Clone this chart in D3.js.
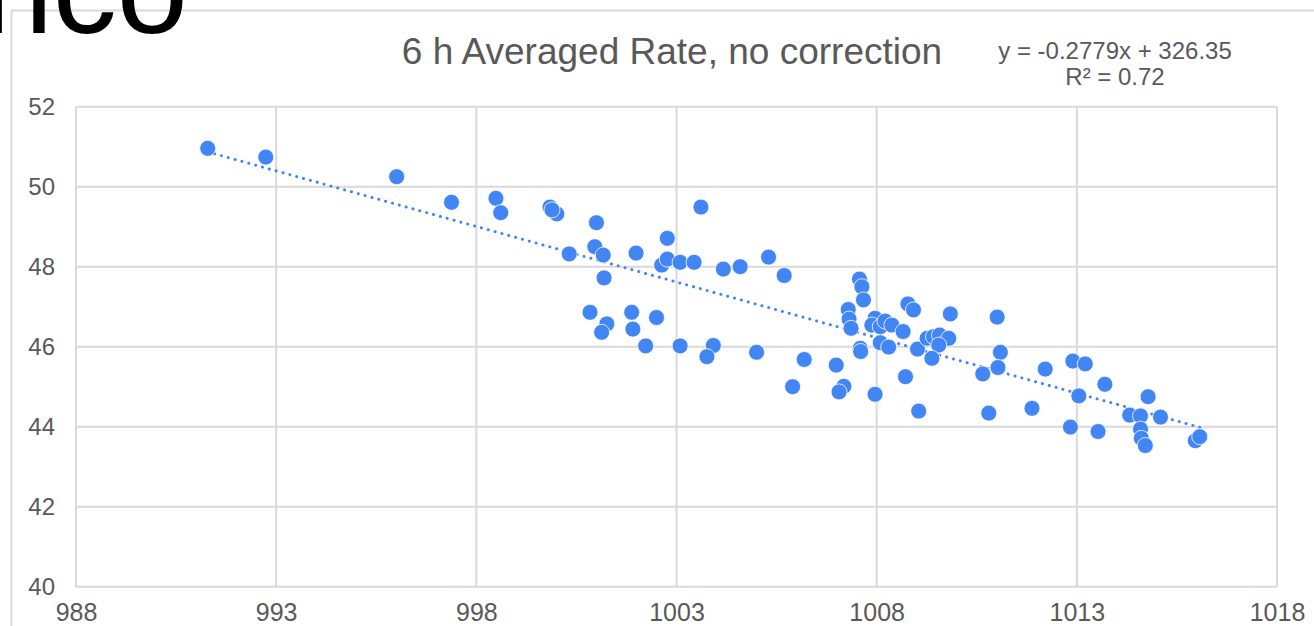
<!DOCTYPE html>
<html>
<head>
<style>
  body { margin: 0; background: #fff; }
  svg { display: block; }
</style>
</head>
<body>

<script src="https://d3js.org/d3.v7.min.js"></script>
<script>

// pressure (x) vs averaged rate (y)
const pressure = [
  991.29, 992.74, 996.01, 997.38, 998.49, 998.61, 999.84, 1000.01, 999.89, 1000.32,
  1001.0, 1000.96, 1001.17, 1001.19, 1000.84, 1001.26, 1001.13, 1001.88, 1001.91, 1001.99,
  1002.23, 1002.5, 1002.63, 1002.77, 1002.77, 1003.09, 1003.09, 1003.44, 1003.61, 1003.92,
  1003.76, 1004.17, 1004.59, 1005.0, 1005.3, 1005.69, 1005.9, 1006.19, 1006.99, 1007.18,
  1007.06, 1007.29, 1007.31, 1007.36, 1007.57, 1007.63, 1007.67, 1007.59, 1007.6, 1007.96,
  1007.96, 1007.88, 1008.09, 1008.21, 1008.38, 1008.66, 1008.09, 1008.3, 1008.78, 1008.92,
  1008.72, 1009.05, 1009.84, 1009.02, 1009.26, 1009.42, 1009.57, 1009.8, 1009.55, 1009.38,
  1011.01, 1011.09, 1011.03, 1010.65, 1010.8, 1011.88, 1012.21, 1012.9, 1013.21, 1013.7,
  1013.05, 1012.84, 1013.53, 1014.78, 1014.32, 1014.59, 1015.09, 1014.59, 1014.61, 1014.71,
  1015.96, 1016.07
];
const rate = [
  50.96, 50.74, 50.25, 49.61, 49.71, 49.35, 49.49, 49.32, 49.42, 48.32,
  49.1, 48.5, 48.29, 47.72, 46.86, 46.57, 46.36, 46.86, 46.44, 48.34,
  46.02, 46.73, 48.04, 48.19, 48.71, 48.11, 46.02, 48.11, 49.49, 46.03,
  45.75, 47.94, 48.0, 45.86, 48.24, 47.78, 45.0, 45.68, 45.54, 45.01,
  44.87, 46.93, 46.69, 46.46, 47.69, 47.5, 47.17, 45.96, 45.88, 44.81,
  46.71, 46.54, 46.5, 46.64, 46.54, 46.38, 46.1, 45.99, 47.07, 46.92,
  45.25, 44.39, 46.82, 45.94, 46.21, 46.25, 46.29, 46.21, 46.04, 45.71,
  46.74, 45.86, 45.48, 45.32, 44.34, 44.46, 45.44, 45.64, 45.57, 45.06,
  44.77, 43.99, 43.88, 44.75, 44.29, 44.27, 44.24, 43.94, 43.71, 43.53,
  43.65, 43.75
];

const xTicks = [988, 993, 998, 1003, 1008, 1013, 1018];
const yTicks = [40, 42, 44, 46, 48, 50, 52];
const slope = -0.2779;
const intercept = 326.35;
const r2 = 0.72;

const width = 1314;
const height = 626;
const margin = {left: 76, right: 1277, top: 106.7, bottom: 586.7};
const blue = '#4285f4';
const textGrey = '#595959';
const gridGrey = '#d9d9d9';
const font = '"Liberation Sans", Arial, sans-serif';

const svg = d3.select('body')
  .append('svg')
  .attr('width', width)
  .attr('height', height);

const x = d3.scaleLinear().domain([988, 1018]).range([margin.left, margin.right]);
const y = d3.scaleLinear().domain([40, 52]).range([margin.bottom, margin.top]);

// cropped bits of the surrounding page
svg.append('path')
  .attr('d', 'M11.5,626 V10.5 H1314')
  .attr('fill', 'none')
  .attr('stroke', gridGrey)
  .attr('stroke-width', 2);

svg.append('text')
  .attr('x', 188)
  .attr('y', 33)
  .attr('text-anchor', 'end')
  .attr('font-family', font)
  .attr('font-size', 128)
  .attr('fill', '#000')
  .text('.nco');

// grid
svg.append('g')
  .selectAll('line')
  .data(yTicks)
  .join('line')
  .attr('x1', margin.left)
  .attr('x2', margin.right)
  .attr('y1', d => y(d))
  .attr('y2', d => y(d))
  .attr('stroke', gridGrey)
  .attr('stroke-width', 2);

svg.append('g')
  .selectAll('line')
  .data(xTicks)
  .join('line')
  .attr('x1', d => x(d))
  .attr('x2', d => x(d))
  .attr('y1', margin.top)
  .attr('y2', margin.bottom)
  .attr('stroke', gridGrey)
  .attr('stroke-width', 2);

// axes labels
const xAxis = svg.append('g')
  .attr('transform', `translate(0,${margin.bottom})`)
  .call(d3.axisBottom(x).tickValues(xTicks).tickFormat(d3.format('d')).tickSize(0).tickPadding(17));
xAxis.select('.domain').remove();
xAxis.selectAll('text')
  .attr('font-family', font)
  .attr('font-size', 25)
  .attr('fill', textGrey);

const yAxis = svg.append('g')
  .attr('transform', `translate(${margin.left},0)`)
  .call(d3.axisLeft(y).tickValues(yTicks).tickFormat(d3.format('d')).tickSize(0).tickPadding(21));
yAxis.select('.domain').remove();
yAxis.selectAll('text')
  .attr('font-family', font)
  .attr('font-size', 24)
  .attr('fill', textGrey);

// trend line
const xMin = d3.min(pressure);
const xMax = d3.max(pressure);
svg.append('line')
  .attr('x1', x(xMin))
  .attr('y1', y(slope * xMin + intercept))
  .attr('x2', x(xMax))
  .attr('y2', y(slope * xMax + intercept))
  .attr('stroke', blue)
  .attr('stroke-width', 3)
  .attr('stroke-linecap', 'round')
  .attr('stroke-dasharray', '0.1 7');

// points
svg.append('g')
  .selectAll('circle')
  .data(pressure.map((p, i) => [p, rate[i]]))
  .join('circle')
  .attr('cx', d => x(d[0]))
  .attr('cy', d => y(d[1]))
  .attr('r', 8)
  .attr('fill', blue)
  .attr('stroke', '#fff')
  .attr('stroke-width', 0.8);

// titles
svg.append('text')
  .attr('x', 672)
  .attr('y', 64)
  .attr('text-anchor', 'middle')
  .attr('font-family', font)
  .attr('font-size', 37)
  .attr('fill', textGrey)
  .text('6 h Averaged Rate, no correction');

const eq = svg.append('text')
  .attr('text-anchor', 'middle')
  .attr('font-family', font)
  .attr('font-size', 24)
  .attr('fill', textGrey);
eq.append('tspan')
  .attr('x', 1115)
  .attr('y', 59)
  .text(`y = ${slope}x + ${intercept}`);
eq.append('tspan')
  .attr('x', 1115)
  .attr('y', 85)
  .text(`R² = ${r2}`);

</script>
</body>
</html>
